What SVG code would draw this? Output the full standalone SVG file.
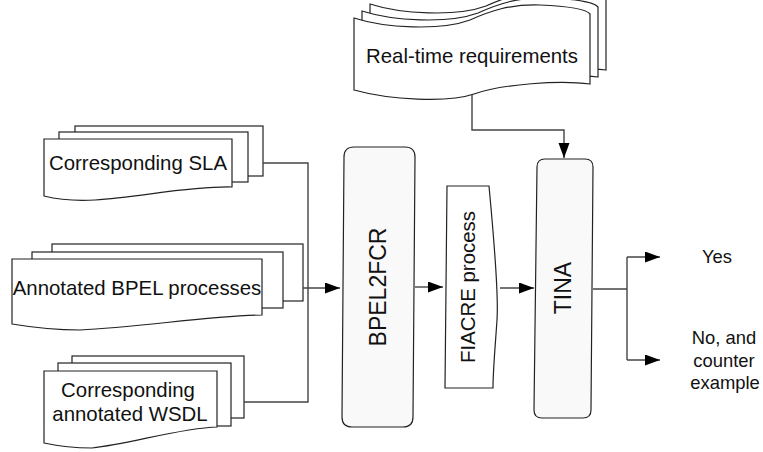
<svg xmlns="http://www.w3.org/2000/svg" width="763" height="452" viewBox="0 0 763 452">
<style>
.sh{fill:#fff;stroke:#222;stroke-width:1.2}
.box{fill:#f9f9f9;stroke:#222;stroke-width:1.2}
.cn{fill:none;stroke:#444;stroke-width:1.4}
.t{font-family:"Liberation Sans",Arial,sans-serif;font-size:20.4px;fill:#111;text-anchor:middle}
.tb{font-family:"Liberation Sans",Arial,sans-serif;font-size:23px;fill:#111;text-anchor:middle}
.ts{font-family:"Liberation Sans",Arial,sans-serif;font-size:18.4px;fill:#111;text-anchor:middle}
</style>
<defs>
<marker id="ah" markerUnits="userSpaceOnUse" markerWidth="16" markerHeight="12" refX="15" refY="5.5" orient="auto">
<path d="M0,0 L15,5.5 L0,11 Z" fill="#000"/>
</marker>
<path id="rt" d="M354,18 C385,28 440,31 470,20 C490,11 510,4 540,5 C565,6 585,8 590,14 L590,84 C560,80 502,84 474,94 C448,103 390,100 354,90 Z"/>
</defs>
<rect width="763" height="452" fill="#fff"/>

<g id="realtime">
<use href="#rt" class="sh" transform="translate(16,-14)"/>
<use href="#rt" class="sh" transform="translate(8,-7)"/>
<use href="#rt" class="sh"/>
<text class="t" x="472" y="63">Real-time requirements</text>
</g>

<g id="sla">
<rect class="sh" x="75" y="126" width="188" height="50"/>
<rect class="sh" x="59" y="132" width="189" height="50"/>
<path class="sh" d="M44,139 H232 V187 C190,186 140,197 95,200 C78,201 60,200 44,196 Z"/>
<text class="t" x="138" y="170">Corresponding SLA</text>
</g>

<g id="bpel">
<rect class="sh" x="52" y="244" width="251" height="57"/>
<rect class="sh" x="32" y="252" width="251" height="56"/>
<path class="sh" d="M12,259 H262 V315 C210,316 140,327 80,330 C55,330 30,327 12,324 Z"/>
<text class="t" x="137" y="295">Annotated BPEL processes</text>
</g>

<g id="wsdl">
<rect class="sh" x="72" y="356" width="172" height="62"/>
<rect class="sh" x="58" y="363" width="173" height="63"/>
<path class="sh" d="M44,371 H217 V427 C180,428 130,444 92,448 C72,448 58,446 44,443 Z"/>
<text class="t" x="128" y="397">Corresponding</text>
<text class="t" x="130" y="421">annotated WSDL</text>
</g>

<g id="bpel2fcr">
<path class="box" d="M354,147 H405 Q415,147 415,157 L413,417 Q413,427 403,427 H352 Q342,427 342,417 L344,157 Q344,147 354,147 Z"/>
<text class="tb" transform="translate(386,287) rotate(-90)">BPEL2FCR</text>
</g>

<g id="fiacre">
<path class="sh" d="M447,186 H489 C493,230 499,290 497,320 C495,350 493,370 493,388 H445 Z"/>
<text class="t" transform="translate(475,287) rotate(-90)">FIACRE process</text>
</g>

<g id="tina">
<path class="box" d="M545,159 H585 Q593,159 593,167 L591,410 Q591,418 583,418 H542 Q534,418 534,410 L537,167 Q537,159 545,159 Z"/>
<text class="tb" transform="translate(571,288) rotate(-90)">TINA</text>
</g>

<g id="outputs">
<text class="ts" x="717" y="263">Yes</text>
<text class="ts" x="724" y="344">No, and</text>
<text class="ts" x="724" y="367">counter</text>
<text class="ts" x="725" y="389">example</text>
</g>

<g id="connectors">
<path class="cn" d="M263,163 H308 V402 H244"/>
<path class="cn" d="M303,288 H340" marker-end="url(#ah)"/>
<path class="cn" d="M415,287 H443" marker-end="url(#ah)"/>
<path class="cn" d="M500,288 H534" marker-end="url(#ah)"/>
<path class="cn" d="M472,95 V130 H564 V158" marker-end="url(#ah)"/>
<path class="cn" d="M593,289 H627"/>
<path class="cn" d="M627,257 V360"/>
<path class="cn" d="M627,257 H660" marker-end="url(#ah)"/>
<path class="cn" d="M627,360 H660" marker-end="url(#ah)"/>
</g>
</svg>
